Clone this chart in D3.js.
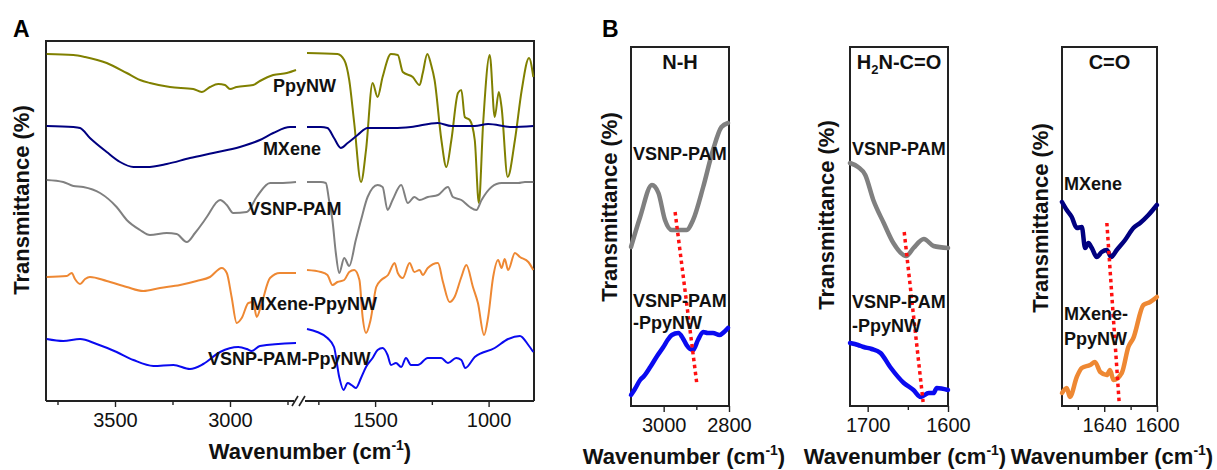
<!DOCTYPE html>
<html>
<head>
<meta charset="utf-8">
<script src="https://cdn.jsdelivr.net/npm/d3@7"></script>
<style>
  html, body { margin: 0; padding: 0; background: #fff; }
  svg { display: block; font-family: "Liberation Sans", Arial, sans-serif; }
</style>
</head>
<body>
<svg id="chart" width="1217" height="470"></svg>
<script>
// ---------- Panel A: full FTIR spectra (offset), broken wavenumber axis ----------
// Each point: [wavenumber (cm-1), transmittance (a.u., offset stack)]
const ppyHigh = [[3797,347],[3681,346],[3630,344],[3536,338],[3449,328],[3391,321],[3348,318],[3261,314],[3160,312],[3123,309],[3087,314],[3051,317],[3022,316],[3000,312],[2971,314],[2899,316],[2870,320],[2812,326],[2753,328],[2713,331]];
const ppyLow = [[1800,348],[1666,347],[1636,341],[1614,321],[1592,278],[1562,219],[1540,251],[1511,318],[1489,304],[1467,324],[1430,347],[1400,346],[1378,329],[1334,324],[1304,316],[1290,328],[1270,347],[1253,336],[1238,321],[1208,261],[1186,234],[1164,261],[1135,308],[1120,311],[1105,284],[1083,281],[1061,261],[1043,198],[1024,278],[995,346],[973,284],[955,309],[943,294],[916,224],[884,261],[854,311],[822,343],[803,324]];

const mxHigh = [[3797,275],[3681,274],[3652,273],[3609,263],[3536,249],[3478,239],[3420,234],[3362,234],[3275,237],[3174,243],[3073,248],[2957,254],[2870,261],[2812,268],[2739,274],[2713,274]];
const mxLow = [[1800,274],[1739,274],[1710,273],[1681,263],[1651,253],[1621,258],[1577,266],[1533,273],[1416,273],[1342,274],[1224,278],[1164,275],[1061,275],[1002,277],[899,274],[803,275]];

const pamHigh = [[3797,221],[3725,219],[3681,215],[3638,214],[3565,208],[3493,194],[3449,181],[3391,171],[3348,166],[3275,168],[3232,167],[3188,159],[3152,168],[3116,179],[3101,184],[3043,201],[3014,196],[2986,188],[2927,189],[2884,204],[2826,218],[2783,218],[2713,219]];
const pamLow = [[1800,219],[1739,219],[1717,218],[1703,201],[1688,181],[1673,148],[1658,128],[1636,143],[1614,135],[1585,161],[1562,181],[1533,204],[1489,216],[1467,214],[1445,191],[1423,201],[1385,216],[1356,198],[1327,204],[1304,201],[1268,204],[1223,206],[1179,214],[1157,204],[1120,201],[1083,194],[1054,191],[1031,201],[987,214],[943,218],[869,218],[840,219],[803,219]];

const mxPpyHigh = [[3797,124],[3710,125],[3688,128],[3674,122],[3652,117],[3630,122],[3609,124],[3536,120],[3449,114],[3377,110],[3304,113],[3217,116],[3145,120],[3087,124],[3036,133],[3014,128],[2993,104],[2971,78],[2949,83],[2920,98],[2899,99],[2884,84],[2862,98],[2826,123],[2783,128],[2713,128]];
const mxPpyLow = [[1800,131],[1739,129],[1710,126],[1688,116],[1666,119],[1636,121],[1614,129],[1592,131],[1569,121],[1555,84],[1540,68],[1520,81],[1495,114],[1473,121],[1443,126],[1414,138],[1400,128],[1378,123],[1348,138],[1327,129],[1304,131],[1290,126],[1268,133],[1223,138],[1201,119],[1172,99],[1150,104],[1120,124],[1098,136],[1069,114],[1047,98],[1020,66],[1002,84],[980,124],[958,141],[943,133],[929,142],[914,131],[884,148],[862,144],[825,139],[803,131]];

const pamPpyHigh = [[3797,62],[3725,60],[3652,62],[3580,57],[3493,49],[3420,41],[3333,35],[3246,36],[3174,32],[3116,37],[3043,49],[2964,54],[2927,52],[2906,50],[2870,55],[2713,58]];
const pamPpyLow = [[1800,72],[1755,69],[1710,63],[1681,54],[1658,24],[1639,11],[1621,18],[1604,16],[1585,13],[1562,23],[1540,34],[1511,43],[1489,51],[1467,53],[1445,46],[1430,36],[1408,38],[1385,34],[1364,43],[1342,36],[1312,36],[1268,43],[1209,43],[1179,38],[1143,43],[1120,41],[1103,33],[1061,44],[973,53],[914,62],[862,65],[825,56],[803,49]];

const seriesA = ["PpyNW", "MXene", "VSNP-PAM", "MXene-PpyNW", "VSNP-PAM-PpyNW"];
const colorsA = ["#808000", "#000080", "#808080", "#EE8833", "#0A0AF0"];
const highA = [ppyHigh, mxHigh, pamHigh, mxPpyHigh, pamPpyHigh];
const lowA = [ppyLow, mxLow, pamLow, mxPpyLow, pamPpyLow];
// label anchor: [wavenumber on the high-wavenumber scale, transmittance]
const labelPosA = [[2813, 314], [2857, 251], [2922, 191], [2913, 96], [3096, 41]];

const ticksHighMajor = [3500, 3000];
const ticksHighMinor = [3750, 3250, 2750];
const ticksLowMajor = [1500, 1000];
const ticksLowMinor = [1750, 1250];

// ---------- Panel B: zoomed regions ----------
const nhPam = [[3100,159],[3072,189],[3036,221],[3016,213],[2996,186],[2975,176],[2930,176],[2910,186],[2879,219],[2849,256],[2823,279],[2803,283]];
const nhPamPpy = [[3100,11],[3088,17],[3072,26],[3060,30],[3041,39],[3020,50],[3001,59],[2988,66],[2975,71],[2955,73],[2940,67],[2930,61],[2910,56],[2895,66],[2879,74],[2865,73],[2849,73],[2829,71],[2815,74],[2803,78]];
const nhShift = [[2965,194],[2898,21]];

const amPam = [[1722,243],[1712,239],[1703,231],[1693,206],[1680,183],[1668,163],[1652,150],[1643,158],[1630,167],[1618,160],[1600,158]];
const amPamPpy = [[1722,63],[1712,61],[1705,59],[1695,57],[1684,53],[1672,39],[1655,23],[1643,16],[1634,9],[1624,13],[1618,13],[1614,18],[1600,16]];
const amShift = [[1654.5,174],[1631,4]];

const coMx = [[1672,204],[1668.4,196],[1664.6,189],[1660.8,178],[1657,179],[1654.5,158],[1652,163],[1649.4,158],[1645.7,149],[1641.9,154],[1638,156],[1634.8,149],[1630.5,156],[1624.2,166],[1617.9,178],[1612.8,183],[1606.5,191],[1600.1,201]];
const coMxPpy = [[1672,13],[1668.4,18],[1666,9],[1660.8,29],[1657,38],[1650.7,41],[1647,44],[1643,34],[1638,31],[1635.6,36],[1633,26],[1626.7,33],[1621.7,59],[1617.9,68],[1610.3,101],[1605.2,104],[1600.1,109]];
const coShift = [[1638,183],[1628.7,4]];

const svg = d3.select("#chart");
const FONT_BOLD = 700;
const frameColor = "#222";
const fmt = d3.format("d");

// ---------------- Panel A ----------------
const boxA = {left: 46, right: 534, top: 41, bottom: 401};
const xHigh = d3.scaleLinear().domain([3800, 2700]).range([boxA.left, 299]);
const xLow = d3.scaleLinear().domain([1800, 800]).range([307, boxA.right]);
const yA = d3.scaleLinear().domain([0, 360]).range([boxA.bottom, boxA.top]);

const gA = svg.append("g");

function drawAxis(g, scale, major, minor, y) {
  const ax = g.append("g").attr("transform", `translate(0,${y})`);
  ax.call(d3.axisBottom(scale).tickValues(major).tickFormat(fmt).tickSize(6).tickSizeOuter(0).tickPadding(6))
    .call(s => s.select(".domain").remove())
    .call(s => s.selectAll("line").attr("stroke", frameColor).attr("stroke-width", 1.4))
    .call(s => s.selectAll("text").attr("font-size", 20).attr("fill", "#111")
      .attr("font-family", '"Liberation Sans", Arial, sans-serif'));
  const mi = g.append("g").attr("transform", `translate(0,${y})`);
  mi.call(d3.axisBottom(scale).tickValues(minor).tickSize(4).tickSizeOuter(0).tickFormat(""))
    .call(s => s.select(".domain").remove())
    .call(s => s.selectAll("line").attr("stroke", frameColor).attr("stroke-width", 1.4));
}

drawAxis(gA, xHigh, ticksHighMajor, ticksHighMinor, boxA.bottom);
drawAxis(gA, xLow, ticksLowMajor, ticksLowMinor, boxA.bottom);

// frame with break on the bottom axis
const frame = gA.append("g").attr("stroke", frameColor).attr("stroke-width", 2).attr("fill", "none");
frame.append("path").attr("d", `M${boxA.left},${boxA.bottom}V${boxA.top}H${boxA.right}V${boxA.bottom}`);
frame.append("line").attr("x1", boxA.left).attr("x2", 294).attr("y1", boxA.bottom).attr("y2", boxA.bottom);
frame.append("line").attr("x1", 305).attr("x2", boxA.right).attr("y1", boxA.bottom).attr("y2", boxA.bottom);
frame.append("line").attr("x1", 292).attr("y1", boxA.bottom + 5).attr("x2", 298).attr("y2", boxA.bottom - 5).attr("stroke-width", 1.6);
frame.append("line").attr("x1", 299).attr("y1", boxA.bottom + 5).attr("x2", 305).attr("y2", boxA.bottom - 5).attr("stroke-width", 1.6);

const lineHigh = d3.line().x(d => xHigh(d[0])).y(d => yA(d[1])).curve(d3.curveMonotoneX);
const lineLow = d3.line().x(d => xLow(d[0])).y(d => yA(d[1])).curve(d3.curveMonotoneX);

seriesA.forEach((name, i) => {
  gA.append("path").datum(highA[i]).attr("d", lineHigh)
    .attr("fill", "none").attr("stroke", colorsA[i]).attr("stroke-width", 2).attr("stroke-linejoin", "round");
  gA.append("path").datum(lowA[i]).attr("d", lineLow)
    .attr("fill", "none").attr("stroke", colorsA[i]).attr("stroke-width", 2).attr("stroke-linejoin", "round");
});

seriesA.forEach((name, i) => {
  gA.append("text").attr("x", xHigh(labelPosA[i][0])).attr("y", yA(labelPosA[i][1]))
    .attr("dominant-baseline", "middle").attr("font-size", 18).attr("font-weight", FONT_BOLD)
    .attr("fill", "#111").text(name);
});

gA.append("text").attr("x", 13).attr("y", 37).attr("font-size", 23).attr("font-weight", FONT_BOLD).text("A");

function axisTitle(g, x, y) {
  const t = g.append("text").attr("x", x).attr("y", y).attr("text-anchor", "middle")
    .attr("font-size", 22).attr("font-weight", FONT_BOLD).attr("fill", "#111");
  t.append("tspan").text("Wavenumber (cm");
  t.append("tspan").attr("font-size", 14).attr("dy", -9).text("-1");
  t.append("tspan").attr("dy", 9).text(")");
}
function yTitle(g, x, y) {
  g.append("text").attr("transform", `translate(${x},${y}) rotate(-90)`)
    .attr("text-anchor", "middle").attr("dominant-baseline", "middle")
    .attr("font-size", 22).attr("font-weight", FONT_BOLD).attr("fill", "#111")
    .text("Transmittance (%)");
}
axisTitle(gA, 310, 459);
yTitle(gA, 23, 200);

// ---------------- Panel B ----------------
const gB = svg.append("g");
gB.append("text").attr("x", 602).attr("y", 37).attr("font-size", 23).attr("font-weight", FONT_BOLD).text("B");

const yB = d3.scaleLinear().domain([0, 359]).range([406, 47]);

const subPanels = [
  {domain: [3100, 2800], range: [631, 729], major: [3000, 2800], minor: [2900], title: "N-H",
   curves: [[nhPam, "#808080"], [nhPamPpy, "#0A0AF0"]], shift: nhShift,
   labels: [["VSNP-PAM", 155], ["VSNP-PAM", 302], ["-PpyNW", 324]], yt: [611, 207], xt: 684},
  {domain: [1722, 1600], range: [850, 948], major: [1700, 1600], minor: [1650], title: "H2N-C=O",
   curves: [[amPam, "#808080"], [amPamPpy, "#0A0AF0"]], shift: amShift,
   labels: [["VSNP-PAM", 150], ["VSNP-PAM", 303], ["-PpyNW", 327]], yt: [828, 215], xt: 905},
  {domain: [1672, 1600], range: [1062, 1157], major: [1640, 1600], minor: [1660, 1620], title: "C=O",
   curves: [[coMx, "#000080"], [coMxPpy, "#EE8833"]], shift: coShift,
   labels: [["MXene", 185], ["MXene-", 315], ["PpyNW", 340]], yt: [1042, 218], xt: 1112}
];

subPanels.forEach(p => {
  const x = d3.scaleLinear().domain(p.domain).range(p.range);
  const g = gB.append("g");
  const [x0, x1] = p.range;
  const [yb, yt] = yB.range();

  drawAxis(g, x, p.major, p.minor, yb);
  g.append("rect").attr("x", x0).attr("y", yt).attr("width", x1 - x0).attr("height", yb - yt)
    .attr("fill", "none").attr("stroke", frameColor).attr("stroke-width", 2);

  const line = d3.line().x(d => x(d[0])).y(d => yB(d[1])).curve(d3.curveMonotoneX);
  p.curves.forEach(([data, color]) => {
    g.append("path").datum(data).attr("d", line).attr("fill", "none")
      .attr("stroke", color).attr("stroke-width", 4.5).attr("stroke-linejoin", "round").attr("stroke-linecap", "round");
  });

  g.append("path").datum(p.shift).attr("d", d3.line().x(d => x(d[0])).y(d => yB(d[1])))
    .attr("fill", "none").attr("stroke", "#FF1010").attr("stroke-width", 3.5).attr("stroke-dasharray", "3.5,3.5");

  // panel title
  const tt = g.append("text").attr("x", (x0 + x1) / 2).attr("y", 69).attr("text-anchor", "middle")
    .attr("font-size", 20).attr("font-weight", FONT_BOLD).attr("fill", "#111");
  if (p.title === "H2N-C=O") {
    tt.append("tspan").text("H");
    tt.append("tspan").attr("font-size", 13).attr("dy", 5).text("2");
    tt.append("tspan").attr("dy", -5).text("N-C=O");
  } else {
    tt.text(p.title);
  }

  p.labels.forEach(([txt, yy]) => {
    g.append("text").attr("x", x0 + 2).attr("y", yy).attr("dominant-baseline", "middle")
      .attr("font-size", 18).attr("font-weight", FONT_BOLD).attr("fill", "#111").text(txt);
  });

  yTitle(g, p.yt[0], p.yt[1]);
  axisTitle(g, p.xt, 464);
});
</script>
</body>
</html>
